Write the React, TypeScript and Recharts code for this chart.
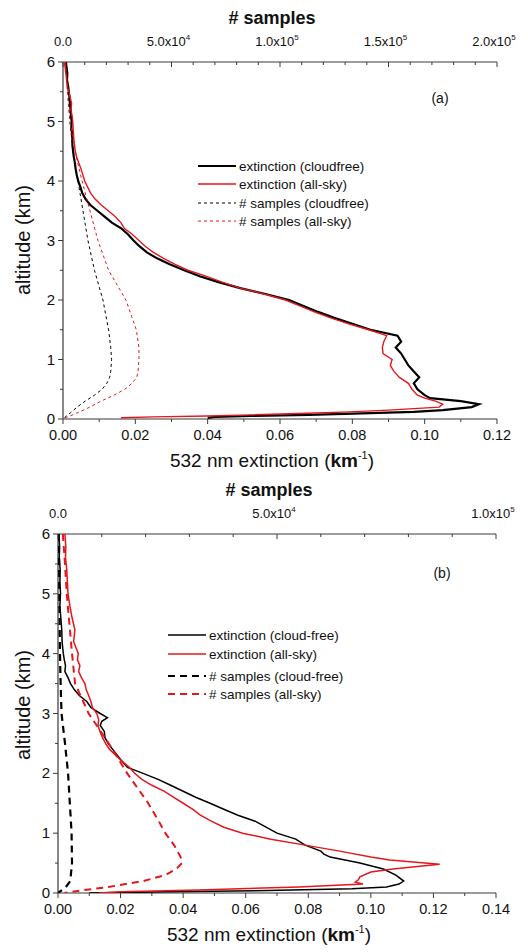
import React from 'react'
import { ScatterChart, Scatter, XAxis, YAxis } from 'recharts'

// ---------- panel (a) ----------
const altExtA = [
  6.0, 5.9, 5.8, 5.7, 5.6, 5.5, 5.4, 5.3, 5.2, 5.1, 5.0, 4.9, 4.8, 4.7, 4.6, 4.5, 4.4, 4.3, 4.2, 4.1,
  4.0, 3.9, 3.8, 3.7, 3.6, 3.5, 3.4, 3.3, 3.2, 3.1, 3.0, 2.9, 2.8, 2.7, 2.6, 2.5, 2.4, 2.3, 2.2, 2.1,
  2.0, 1.9, 1.8, 1.7, 1.6, 1.5, 1.4, 1.3, 1.2, 1.1, 1.0, 0.9, 0.8, 0.7, 0.6, 0.5, 0.4, 0.35, 0.3, 0.25,
  0.2, 0.15, 0.12, 0.1, 0.07, 0.05, 0.035, 0.02,
]
const extCloudfreeA = [
  0.0008, 0.001, 0.0012, 0.0011, 0.0014, 0.0016, 0.0018, 0.0019, 0.0021, 0.0022, 0.0024, 0.0023, 0.0025, 0.0026, 0.0026, 0.0028, 0.003, 0.0033, 0.0035, 0.0038,
  0.0042, 0.0048, 0.0053, 0.0062, 0.0075, 0.0095, 0.0115, 0.0135, 0.0162, 0.018, 0.0195, 0.0212, 0.0232, 0.026, 0.0295, 0.0335, 0.0378, 0.043, 0.049, 0.056,
  0.0625, 0.0665, 0.0705, 0.075, 0.08, 0.085, 0.0925, 0.0935, 0.092, 0.0935, 0.0945, 0.0955, 0.097, 0.0985, 0.097, 0.098, 0.1, 0.1015, 0.11, 0.115,
  0.113, 0.105, 0.097, 0.085, 0.068, 0.052, 0.042, 0.04,
]
const extAllSkyA = [
  0.0004, 0.0006, 0.0008, 0.001, 0.0012, 0.0016, 0.002, 0.0024, 0.0022, 0.0025, 0.0027, 0.0028, 0.0029, 0.003, 0.0032, 0.0034, 0.0038, 0.0044, 0.005, 0.0055,
  0.006, 0.0068, 0.0076, 0.0088, 0.0105, 0.0125, 0.0145, 0.016, 0.017, 0.0192, 0.021, 0.0228, 0.025, 0.0278, 0.031, 0.0345, 0.0395, 0.044, 0.049, 0.0555,
  0.0615, 0.0655, 0.0695, 0.074, 0.079, 0.0845, 0.0895, 0.0887, 0.0883, 0.0885, 0.091, 0.0905, 0.0915, 0.093, 0.0955, 0.0965, 0.098, 0.1, 0.103, 0.105,
  0.104, 0.09, 0.079, 0.07, 0.052, 0.04, 0.025, 0.016,
]
const altSamplesA = [6, 5.5, 5, 4.5, 4, 3.5, 3, 2.5, 2, 1.5, 1.2, 1.0, 0.8, 0.7, 0.6, 0.5, 0.4, 0.3, 0.2, 0.1, 0.03, 0]
const samplesCloudfreeA = [1500, 2300, 3200, 4600, 6900, 9200, 11500, 14500, 18400, 21000, 22000, 22400, 22000, 21500, 20200, 18000, 14500, 10200, 6500, 3300, 900, 0]
const samplesAllSkyA = [1200, 2000, 3200, 5500, 8800, 12400, 16100, 21000, 29000, 33800, 35000, 35000, 34600, 34000, 31800, 28500, 23500, 17500, 12400, 6400, 1800, 0]

// ---------- panel (b) ----------
const altExtCloudfreeB = [
  6.0, 5.8, 5.6, 5.4, 5.2, 5.0, 4.8, 4.6, 4.4, 4.2, 4.0, 3.9, 3.8, 3.7, 3.6, 3.5, 3.4, 3.3, 3.2, 3.1,
  3.0, 2.93, 2.87, 2.8, 2.7, 2.6, 2.5, 2.4, 2.3, 2.2, 2.1, 2.0, 1.9, 1.8, 1.7, 1.6, 1.5, 1.4, 1.3, 1.2,
  1.1, 1.0, 0.9, 0.8, 0.7, 0.65, 0.6, 0.5, 0.4, 0.3, 0.2, 0.15, 0.1, 0.07, 0.04, 0.02, 0.0,
]
const extCloudfreeB = [
  0.0003, 0.0005, 0.0004, 0.0007, 0.0006, 0.0008, 0.0006, 0.0009, 0.0012, 0.0013, 0.0017, 0.002, 0.0024, 0.0022, 0.0032, 0.004, 0.0052, 0.0068, 0.0092, 0.0105,
  0.0135, 0.0158, 0.014, 0.0135, 0.0148, 0.015, 0.016, 0.0175, 0.019, 0.0205, 0.0222, 0.0272, 0.032, 0.036, 0.04, 0.044, 0.0486, 0.053, 0.0575, 0.063,
  0.0665, 0.07, 0.076, 0.079, 0.084, 0.085, 0.087, 0.0965, 0.104, 0.108, 0.1105, 0.109, 0.105, 0.094, 0.067, 0.035, 0.01,
]
const altExtAllSkyB = [
  6.0, 5.8, 5.6, 5.4, 5.2, 5.0, 4.8, 4.6, 4.4, 4.2, 4.0, 3.9, 3.8, 3.7, 3.6, 3.5, 3.4, 3.3, 3.2, 3.1,
  3.0, 2.9, 2.8, 2.7, 2.6, 2.5, 2.4, 2.3, 2.2, 2.1, 2.0, 1.9, 1.8, 1.7, 1.6, 1.5, 1.4, 1.3, 1.2, 1.1,
  1.0, 0.9, 0.8, 0.7, 0.6, 0.55, 0.48, 0.4, 0.35, 0.27, 0.22, 0.18, 0.15, 0.1, 0.05, 0.02, 0.0,
]
const extAllSkyB = [
  0.0022, 0.0025, 0.0024, 0.0028, 0.003, 0.0032, 0.0038, 0.0045, 0.0054, 0.005, 0.0065, 0.0062, 0.007, 0.0066, 0.0075, 0.0086, 0.009, 0.0098, 0.0105, 0.011,
  0.0124, 0.013, 0.0128, 0.0134, 0.0142, 0.0152, 0.0165, 0.0185, 0.0205, 0.0228, 0.0245, 0.0268, 0.03, 0.034, 0.037, 0.04, 0.043, 0.0455, 0.049, 0.053,
  0.059, 0.068, 0.079, 0.09, 0.1, 0.106, 0.122, 0.107, 0.1, 0.0965, 0.096, 0.095, 0.0975, 0.077, 0.045, 0.02, 0.013,
]
const altSamplesCloudfreeB = [6, 5, 4, 3.5, 3, 2.5, 2, 1.5, 1, 0.5, 0.2, 0.1, 0.05, 0]
const samplesCloudfreeB = [200, 300, 450, 600, 800, 1600, 2300, 2700, 3100, 3200, 2800, 1800, 900, 0]
const altSamplesAllSkyB = [6, 5.5, 5, 4.5, 4, 3.5, 3, 2.5, 2, 1.5, 1.2, 1.0, 0.8, 0.6, 0.5, 0.4, 0.3, 0.2, 0.1, 0.05, 0]
const samplesAllSkyB = [1100, 1600, 2000, 2600, 3200, 3900, 7000, 11600, 15800, 20600, 23000, 24500, 26500, 28000, 28300, 27000, 24500, 19500, 11500, 6000, 1500]

// ---------- ticks ----------
const altTicks = [0, 0.5, 1, 1.5, 2, 2.5, 3, 3.5, 4, 4.5, 5, 5.5, 6]
const extTicksA = [0, 0.01, 0.02, 0.03, 0.04, 0.05, 0.06, 0.07, 0.08, 0.09, 0.1, 0.11, 0.12]
const extTicksB = [0, 0.01, 0.02, 0.03, 0.04, 0.05, 0.06, 0.07, 0.08, 0.09, 0.1, 0.11, 0.12, 0.13, 0.14]
const sampleTicksA = [
  0, 10000, 20000, 30000, 40000, 50000, 60000, 70000, 80000, 90000, 100000,
  110000, 120000, 130000, 140000, 150000, 160000, 170000, 180000, 190000, 200000,
]
const sampleTicksB = [0, 10000, 20000, 30000, 40000, 50000, 60000, 70000, 80000, 90000, 100000]

const FONT = '"Liberation Sans", Arial, Helvetica, sans-serif'
const INK = '#111'
const AXIS = '#3a3a3a'
const RED = '#e3171c'

const zip = (alt: number[], val: number[]) => alt.map((y, i) => ({ x: val[i], y }))
const noDot = () => <g />

const sampleLabel = (v: number) => {
  if (v === 0) return { m: '0.0', e: '' }
  const e = Math.floor(Math.log10(v) + 1e-9)
  return { m: (v / Math.pow(10, e)).toFixed(1) + 'x10', e: String(e) }
}

const BottomTick = (props: any) => {
  const { x, y, payload } = props
  const v = payload.value
  const major = Math.round(v * 100) % 2 === 0
  return (
    <g>
      <line x1={x} y1={y} x2={x} y2={y + (major ? 5 : 3)} stroke={AXIS} />
      {major && (
        <text x={x} y={y + 21} textAnchor="middle" fontSize={14.5} fill={INK} fontFamily={FONT}>
          {v.toFixed(2)}
        </text>
      )}
    </g>
  )
}

const TopTick = (props: any) => {
  const { x, y, payload } = props
  const v = payload.value
  const major = v % 50000 === 0
  const lab = sampleLabel(v)
  return (
    <g>
      <line x1={x} y1={y} x2={x} y2={y + (major ? 5 : 3)} stroke={AXIS} />
      {major && (
        <text x={x - (lab.e ? 3 : 0)} y={y - 16} textAnchor="middle" fontSize={13} fill={INK} fontFamily={FONT}>
          {lab.m}
          {lab.e && (
            <tspan dy={-6} fontSize={8}>
              {lab.e}
            </tspan>
          )}
        </text>
      )}
    </g>
  )
}

const LeftTick = (props: any) => {
  const { x, y, payload } = props
  const v = payload.value
  const major = Number.isInteger(v)
  return (
    <g>
      <line x1={x} y1={y} x2={x - (major ? 5 : 3)} y2={y} stroke={AXIS} />
      {major && (
        <text x={x - 8} y={y + 5} textAnchor="end" fontSize={15} fill={INK} fontFamily={FONT}>
          {v}
        </text>
      )}
    </g>
  )
}

const RightTick = (props: any) => {
  const { x, y, payload } = props
  const major = Number.isInteger(payload.value)
  return <line x1={x} y1={y} x2={x - (major ? 5 : 3)} y2={y} stroke={AXIS} />
}

type Series = { alt: number[]; val: number[]; axis: 'ext' | 'n'; stroke: string; width: number; dash?: string; label: string }

type PanelProps = {
  top: number
  height: number
  plot: { left: number; right: number; top: number; bottom: number }
  extMax: number
  extTicks: number[]
  nMax: number
  nTicks: number[]
  series: Series[]
  legend: { x: number; rows: number[] }
  tag: string
  tagPos: [number, number]
  yTitleY: number
}

function Panel(p: PanelProps) {
  const W = 528
  const margin = {
    left: p.plot.left - 50,
    right: W - p.plot.right,
    top: p.plot.top - 30,
    bottom: p.height - p.plot.bottom - 30,
  }
  const midX = (p.plot.left + p.plot.right) / 2 - 8
  return (
    <div style={{ position: 'absolute', left: 0, top: p.top, width: W, height: p.height }}>
      <ScatterChart width={W} height={p.height} margin={margin}>
        <XAxis
          xAxisId="ext"
          type="number"
          dataKey="x"
          orientation="bottom"
          domain={[0, p.extMax]}
          ticks={p.extTicks}
          interval={0}
          height={30}
          tickSize={0}
          tickMargin={0}
          tickLine={false}
          axisLine={{ stroke: AXIS, strokeWidth: 1.2 }}
          tick={<BottomTick />}
          allowDataOverflow
        />
        <XAxis
          xAxisId="n"
          type="number"
          dataKey="x"
          orientation="top"
          domain={[0, p.nMax]}
          ticks={p.nTicks}
          interval={0}
          height={30}
          tickSize={0}
          tickMargin={0}
          tickLine={false}
          axisLine={{ stroke: AXIS, strokeWidth: 1.2 }}
          tick={<TopTick />}
          allowDataOverflow
        />
        <YAxis
          yAxisId="alt"
          type="number"
          dataKey="y"
          domain={[0, 6]}
          ticks={altTicks}
          interval={0}
          width={50}
          tickSize={0}
          tickMargin={0}
          tickLine={false}
          axisLine={{ stroke: AXIS, strokeWidth: 1.2 }}
          tick={<LeftTick />}
          allowDataOverflow
        />
        <YAxis
          yAxisId="right"
          orientation="right"
          type="number"
          dataKey="y"
          domain={[0, 6]}
          ticks={altTicks}
          interval={0}
          width={0}
          tickSize={0}
          tickMargin={0}
          tickLine={false}
          axisLine={{ stroke: AXIS, strokeWidth: 1.2 }}
          tick={<RightTick />}
          allowDataOverflow
        />
        {p.series.map((s, i) => (
          <Scatter
            key={i}
            xAxisId={s.axis}
            yAxisId="alt"
            data={zip(s.alt, s.val)}
            fill="none"
            line={{ stroke: s.stroke, strokeWidth: s.width, strokeDasharray: s.dash, fill: 'none' }}
            lineJointType="linear"
            shape={noDot}
            legendType="none"
            isAnimationActive={false}
          />
        ))}
      </ScatterChart>
      <svg width={W} height={p.height} style={{ position: 'absolute', left: 0, top: 0, pointerEvents: 'none' }}>
        <text x={midX} y={p.plot.top - 38} textAnchor="middle" fontSize={18} fontWeight="bold" fill={INK} fontFamily={FONT}>
          # samples
        </text>
        <text x={midX} y={p.plot.bottom + 48} textAnchor="middle" fontSize={19} fill={INK} fontFamily={FONT}>
          532 nm extinction (<tspan fontWeight="bold">km</tspan>
          <tspan dy={-8} fontSize={11}>-1</tspan>
          <tspan dy={8}>)</tspan>
        </text>
        <text
          x={23}
          y={p.yTitleY}
          transform={`rotate(-90 23 ${p.yTitleY})`}
          textAnchor="middle"
          dominantBaseline="central"
          fontSize={20}
          fill={INK}
          fontFamily={FONT}
        >
          altitude (km)
        </text>
        <text x={p.tagPos[0]} y={p.tagPos[1]} textAnchor="middle" fontSize={14} fill={INK} fontFamily={FONT}>
          {p.tag}
        </text>
        {p.series.map((s, i) => (
          <g key={i}>
            <line
              x1={p.legend.x}
              x2={p.legend.x + 38}
              y1={p.legend.rows[i]}
              y2={p.legend.rows[i]}
              stroke={s.stroke}
              strokeWidth={s.width}
              strokeDasharray={s.dash}
            />
            <text x={p.legend.x + 41} y={p.legend.rows[i] + 5} fontSize={13.5} fill={INK} fontFamily={FONT}>
              {s.label}
            </text>
          </g>
        ))}
      </svg>
    </div>
  )
}

export default function App() {
  const seriesA: Series[] = [
    { alt: altExtA, val: extCloudfreeA, axis: 'ext', stroke: '#000', width: 2.2, label: 'extinction (cloudfree)' },
    { alt: altExtA, val: extAllSkyA, axis: 'ext', stroke: RED, width: 1.4, label: 'extinction (all-sky)' },
    { alt: altSamplesA, val: samplesCloudfreeA, axis: 'n', stroke: '#000', width: 1, dash: '3 3', label: '# samples (cloudfree)' },
    { alt: altSamplesA, val: samplesAllSkyA, axis: 'n', stroke: RED, width: 1, dash: '3 3', label: '# samples (all-sky)' },
  ]
  const seriesB: Series[] = [
    { alt: altExtCloudfreeB, val: extCloudfreeB, axis: 'ext', stroke: '#000', width: 1.5, label: 'extinction (cloud-free)' },
    { alt: altExtAllSkyB, val: extAllSkyB, axis: 'ext', stroke: RED, width: 1.5, label: 'extinction (all-sky)' },
    { alt: altSamplesCloudfreeB, val: samplesCloudfreeB, axis: 'n', stroke: '#000', width: 2.2, dash: '7 5', label: '# samples (cloud-free)' },
    { alt: altSamplesAllSkyB, val: samplesAllSkyB, axis: 'n', stroke: RED, width: 2, dash: '7 5', label: '# samples (all-sky)' },
  ]
  return (
    <div style={{ position: 'absolute', left: 0, top: 0, width: 528, height: 952, background: '#fff', overflow: 'hidden' }}>
      <Panel
        top={0}
        height={476}
        plot={{ left: 63, right: 497, top: 62, bottom: 419 }}
        extMax={0.12}
        extTicks={extTicksA}
        nMax={200000}
        nTicks={sampleTicksA}
        series={seriesA}
        legend={{ x: 198, rows: [166, 184, 203, 221] }}
        tag="(a)"
        tagPos={[440, 103]}
        yTitleY={240}
      />
      <Panel
        top={470}
        height={482}
        plot={{ left: 58, right: 496, top: 64, bottom: 423 }}
        extMax={0.14}
        extTicks={extTicksB}
        nMax={100000}
        nTicks={sampleTicksB}
        series={seriesB}
        legend={{ x: 168, rows: [165, 184, 206, 224] }}
        tag="(b)"
        tagPos={[442, 108]}
        yTitleY={235}
      />
    </div>
  )
}
